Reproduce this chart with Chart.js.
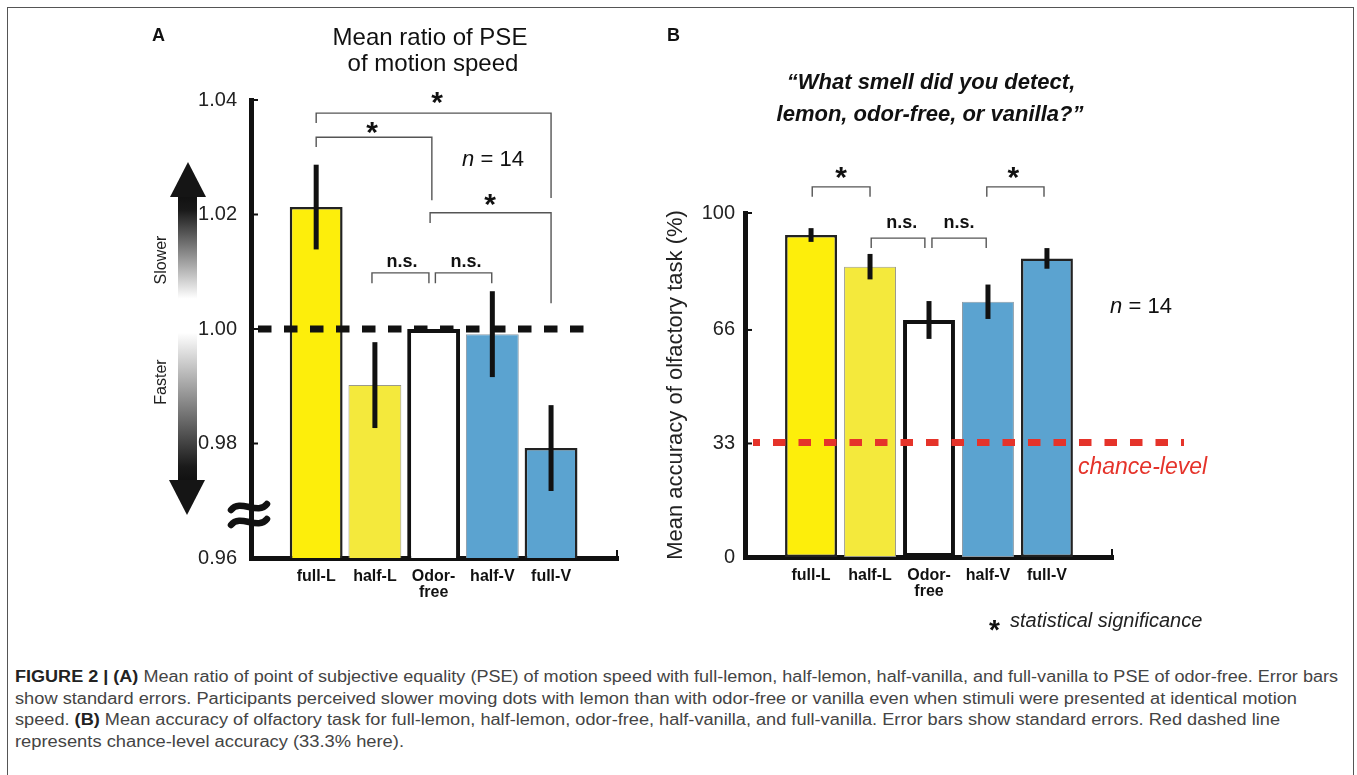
<!DOCTYPE html>
<html>
<head>
<meta charset="utf-8">
<script src="https://cdn.jsdelivr.net/npm/chart.js@4.4.1/dist/chart.umd.min.js"></script>
<style>
  body { margin: 0; background: #fff; width: 1357px; height: 775px; overflow: hidden; position: relative;
         font-family: 'Liberation Sans', Arial, sans-serif; }
  #frame { position: absolute; left: 7px; top: 7px; width: 1345px; height: 820px; border: 1px solid #555; }
  #chartA { position: absolute; left: 0; top: 0; }
  #chartB { position: absolute; left: 660px; top: 0; }
  .cap { position: absolute; left: 15px; white-space: nowrap; font-size: 16px; line-height: 22px;
         color: #444; transform-origin: 0 50%; }
  .cap b { color: #222; }
</style>
</head>
<body>
<div id="frame"></div>
<canvas id="chartA" width="660" height="640"></canvas>
<canvas id="chartB" width="697" height="640"></canvas>

<div class="cap" style="top:666px" data-w="1323"><b>FIGURE 2 | (A)</b> Mean ratio of point of subjective equality (PSE) of motion speed with full-lemon, half-lemon, half-vanilla, and full-vanilla to PSE of odor-free. Error bars</div>
<div class="cap" style="top:688px" data-w="1282">show standard errors. Participants perceived slower moving dots with lemon than with odor-free or vanilla even when stimuli were presented at identical motion</div>
<div class="cap" style="top:709px" data-w="1265">speed. <b>(B)</b> Mean accuracy of olfactory task for full-lemon, half-lemon, odor-free, half-vanilla, and full-vanilla. Error bars show standard errors. Red dashed line</div>
<div class="cap" style="top:731px" data-w="389">represents chance-level accuracy (33.3% here).</div>

<script>
// categories shared by both panels
const categories = ['full-L', 'half-L', 'Odor-\nfree', 'half-V', 'full-V'];

// panel A: mean ratio of PSE
const pseMeans = [1.0213, 0.9902, 1.0, 0.9991, 0.9792];
const pseErrors = [0.0074, 0.0075, 0, 0.0075, 0.0075];
const pseTicks = [0.96, 0.98, 1.00, 1.02, 1.04];
const pseReference = 1.0;

// panel B: accuracy of olfactory task (%)
const accMeans = [93.6, 84.4, 68.9, 74.2, 86.8];
const accErrors = [2.0, 3.7, 5.5, 5.0, 3.0];
const accTicks = [0, 33, 66, 100];
const chanceLevel = 33.3;

const barFills = ['#fdee0b', '#f4e93c', '#ffffff', '#5ba3d0', '#5ba3d0'];
const barBorders = ['#222', '#9a9a8a', '#111', '#8a9aa6', '#222'];
const barBorderWidths = [2.5, 1, 4, 1, 2.5];

Chart.defaults.font.family = "'Liberation Sans', Arial, sans-serif";
Chart.defaults.color = '#222';

function drawErrorBars(chart, means, errors) {
    const ctx = chart.ctx;
    const x = chart.scales.x, y = chart.scales.y;
    ctx.save();
    ctx.strokeStyle = '#111';
    ctx.lineWidth = 5;
    means.forEach((m, i) => {
        if (!errors[i]) return;
        const px = x.getPixelForValue(i);
        ctx.beginPath();
        ctx.moveTo(px, y.getPixelForValue(m + errors[i]));
        ctx.lineTo(px, y.getPixelForValue(m - errors[i]));
        ctx.stroke();
    });
    ctx.restore();
}

// bracket between two category positions, heights in data units
function bracket(chart, x1, x2, top, endL, endR) {
    const ctx = chart.ctx;
    const x = chart.scales.x, y = chart.scales.y;
    ctx.save();
    ctx.strokeStyle = '#555';
    ctx.lineWidth = 1.4;
    ctx.beginPath();
    ctx.moveTo(x.getPixelForValue(x1), y.getPixelForValue(endL));
    ctx.lineTo(x.getPixelForValue(x1), y.getPixelForValue(top));
    ctx.lineTo(x.getPixelForValue(x2), y.getPixelForValue(top));
    ctx.lineTo(x.getPixelForValue(x2), y.getPixelForValue(endR));
    ctx.stroke();
    ctx.restore();
}

function label(chart, text, xv, yv, font) {
    const ctx = chart.ctx;
    ctx.save();
    ctx.font = font;
    ctx.fillStyle = '#111';
    ctx.textAlign = 'center';
    ctx.textBaseline = 'middle';
    ctx.fillText(text, chart.scales.x.getPixelForValue(xv), chart.scales.y.getPixelForValue(yv));
    ctx.restore();
}

function star(chart, xv, yv) {
    const ctx = chart.ctx;
    ctx.save();
    ctx.font = "bold 30px 'Liberation Sans', Arial";
    ctx.fillStyle = '#111';
    ctx.textAlign = 'center';
    ctx.textBaseline = 'alphabetic';
    ctx.fillText('*', chart.scales.x.getPixelForValue(xv), chart.scales.y.getPixelForValue(yv) + 14);
    ctx.restore();
}

function axisTicks(chart, values) {
    const ctx = chart.ctx, area = chart.chartArea, y = chart.scales.y;
    ctx.save();
    ctx.strokeStyle = '#111';
    ctx.lineWidth = 2;
    values.forEach(v => {
        const py = y.getPixelForValue(v);
        ctx.beginPath();
        ctx.moveTo(area.left, py);
        ctx.lineTo(area.left + 7, py);
        ctx.stroke();
    });
    ctx.beginPath();
    ctx.moveTo(area.right - 1, area.bottom);
    ctx.lineTo(area.right - 1, area.bottom - 8);
    ctx.stroke();
    ctx.restore();
}

function nText(ctx, cx, cy) {
    ctx.save();
    ctx.fillStyle = '#111';
    ctx.textBaseline = 'middle';
    const rest = ' = 14';
    ctx.font = "italic 22px 'Liberation Sans', Arial";
    const wn = ctx.measureText('n').width;
    ctx.font = "22px 'Liberation Sans', Arial";
    const wr = ctx.measureText(rest).width;
    const left = cx - (wn + wr) / 2;
    ctx.font = "italic 22px 'Liberation Sans', Arial";
    ctx.fillText('n', left, cy);
    ctx.font = "22px 'Liberation Sans', Arial";
    ctx.fillText(rest, left + wn, cy);
    ctx.restore();
}

const pseAnnotations = {
    id: 'pseAnnotations',
    afterDatasetsDraw(chart) {
        const {ctx, chartArea, scales: {x, y}} = chart;
        ctx.save();
        ctx.strokeStyle = '#111';
        ctx.lineWidth = 7;
        ctx.setLineDash([13.5, 12.5]);
        const py = y.getPixelForValue(pseReference);
        ctx.beginPath();
        ctx.moveTo(chartArea.left + 7, py);
        ctx.lineTo(x.getPixelForValue(4.67), py);
        ctx.stroke();
        ctx.restore();
        drawErrorBars(chart, pseMeans, pseErrors);
    },
    afterDraw(chart) {
        const ctx = chart.ctx;
        axisTicks(chart, pseTicks);

        bracket(chart, 0, 4.0, 1.0377, 1.0360, 1.0229);
        star(chart, 2.06, 1.0403);
        bracket(chart, 0, 1.97, 1.0335, 1.0318, 1.0225);
        star(chart, 0.95, 1.0351);
        bracket(chart, 1.94, 4.0, 1.0203, 1.0185, 1.0045);
        star(chart, 2.96, 1.0225);
        bracket(chart, 0.95, 1.92, 1.0098, 1.0080, 1.0080);
        label(chart, 'n.s.', 1.46, 1.0117, "bold 18px 'Liberation Sans', Arial");
        bracket(chart, 2.03, 2.99, 1.0098, 1.0080, 1.0080);
        label(chart, 'n.s.', 2.55, 1.0117, "bold 18px 'Liberation Sans', Arial");

        ctx.save();
        // panel letter and title
        ctx.fillStyle = '#111';
        ctx.textBaseline = 'middle';
        ctx.textAlign = 'left';
        ctx.font = "bold 18px 'Liberation Sans', Arial";
        ctx.fillText('A', 152, 36);
        ctx.textAlign = 'center';
        ctx.font = "24px 'Liberation Sans', Arial";
        ctx.fillText('Mean ratio of PSE', 430, 38);
        ctx.fillText('of motion speed', 433, 64);
        ctx.restore();
        nText(ctx, 493, 160);

        // slower / faster gradient arrow
        ctx.save();
        const grad = ctx.createLinearGradient(0, 196, 0, 481);
        grad.addColorStop(0, '#111');
        grad.addColorStop(0.05, '#1a1a1a');
        grad.addColorStop(0.36, '#fff');
        grad.addColorStop(0.48, '#fff');
        grad.addColorStop(0.95, '#1a1a1a');
        grad.addColorStop(1, '#111');
        ctx.fillStyle = grad;
        ctx.fillRect(178, 196, 19, 285);
        ctx.fillStyle = '#151515';
        ctx.beginPath();
        ctx.moveTo(188, 162); ctx.lineTo(206, 197); ctx.lineTo(170, 197);
        ctx.closePath(); ctx.fill();
        ctx.beginPath();
        ctx.moveTo(169, 480); ctx.lineTo(205, 480); ctx.lineTo(187, 515);
        ctx.closePath(); ctx.fill();
        ctx.fillStyle = '#222';
        ctx.font = "16px 'Liberation Sans', Arial";
        ctx.textAlign = 'center';
        ctx.textBaseline = 'middle';
        ctx.translate(162, 260); ctx.rotate(-Math.PI / 2);
        ctx.fillText('Slower', 0, 0);
        ctx.rotate(Math.PI / 2); ctx.translate(0, 122); ctx.rotate(-Math.PI / 2);
        ctx.fillText('Faster', 0, 0);
        ctx.restore();

        // axis break mark
        ctx.save();
        ctx.strokeStyle = '#111';
        ctx.lineWidth = 6.5;
        ctx.lineCap = 'round';
        [507, 522].forEach(cy => {
            ctx.beginPath();
            ctx.moveTo(231, cy + 3);
            ctx.bezierCurveTo(240, cy - 9, 258, cy + 9, 267, cy - 3);
            ctx.stroke();
        });
        ctx.restore();
    }
};

const accAnnotations = {
    id: 'accAnnotations',
    afterDatasetsDraw(chart) {
        drawErrorBars(chart, accMeans, accErrors);
    },
    afterDraw(chart) {
        const {ctx, scales: {x, y}} = chart;
        axisTicks(chart, accTicks);

        // chance level
        ctx.save();
        ctx.strokeStyle = '#e5332a';
        ctx.lineWidth = 7;
        ctx.setLineDash([12.5, 13]);
        ctx.lineDashOffset = 5.5;
        const py = y.getPixelForValue(chanceLevel);
        ctx.beginPath();
        ctx.moveTo(93, py);
        ctx.lineTo(524, py);
        ctx.stroke();
        ctx.setLineDash([]);
        ctx.fillStyle = '#e5332a';
        ctx.font = "italic 23px 'Liberation Sans', Arial";
        ctx.textBaseline = 'middle';
        ctx.fillText('chance-level', 418, 468);
        ctx.restore();

        bracket(chart, 0.02, 1.0, 107.6, 104.7, 104.7);
        star(chart, 0.51, 111.6);
        bracket(chart, 2.98, 3.95, 107.6, 104.7, 104.7);
        star(chart, 3.43, 111.6);
        bracket(chart, 1.02, 1.93, 92.7, 89.8, 89.8);
        label(chart, 'n.s.', 1.54, 97.1, "bold 18px 'Liberation Sans', Arial");
        bracket(chart, 2.05, 2.97, 92.7, 89.8, 89.8);
        label(chart, 'n.s.', 2.51, 97.1, "bold 18px 'Liberation Sans', Arial");

        nText(ctx, 481, 307);

        ctx.save();
        ctx.fillStyle = '#111';
        ctx.textBaseline = 'middle';
        ctx.textAlign = 'left';
        ctx.font = "bold 18px 'Liberation Sans', Arial";
        ctx.fillText('B', 7, 36);
        ctx.textAlign = 'center';
        ctx.font = "italic bold 22px 'Liberation Sans', Arial";
        ctx.fillText('\u201CWhat smell did you detect,', 271, 83);
        ctx.fillText('lemon, odor-free, or vanilla?\u201D', 270, 115);

        // significance note
        ctx.textAlign = 'left';
        ctx.font = "bold 28px 'Liberation Sans', Arial";
        ctx.textBaseline = 'alphabetic';
        ctx.fillText('*', 329, 639);
        ctx.textBaseline = 'middle';
        ctx.fillStyle = '#222';
        ctx.font = "italic 20px 'Liberation Sans', Arial";
        ctx.fillText('statistical significance', 350, 621);
        ctx.restore();
    }
};

function barChart(canvasId, means, yTicks, opts, plugin) {
    return new Chart(document.getElementById(canvasId), {
        type: 'bar',
        data: {
            datasets: [{
                data: means.map((v, i) => ({x: i, y: v})),
                backgroundColor: barFills,
                borderColor: barBorders,
                borderWidth: barBorderWidths,
                borderSkipped: false,
                categoryPercentage: 1,
                barPercentage: opts.barPercentage
            }]
        },
        options: {
            responsive: false,
            animation: false,
            devicePixelRatio: 1,
            layout: {padding: opts.padding},
            plugins: {legend: {display: false}, tooltip: {enabled: false}},
            scales: {
                x: {
                    type: 'linear',
                    offset: false,
                    min: opts.xMin,
                    max: opts.xMax,
                    z: 1,
                    grid: {display: false, drawTicks: false},
                    border: {display: true, width: 5, color: '#111'},
                    afterBuildTicks: (scale) => {
                        scale.ticks = categories.map((c, i) => ({value: i}));
                    },
                    afterFit: (scale) => { scale.height = 60; },
                    ticks: {
                        autoSkip: false,
                        maxRotation: 0,
                        padding: 11,
                        color: '#111',
                        font: {size: 16, weight: 'bold', lineHeight: 1},
                        callback: (value) => categories[value].split('\n')
                    }
                },
                y: {
                    min: yTicks[0],
                    max: yTicks[yTicks.length - 1],
                    z: 1,
                    grid: {display: false, drawTicks: false},
                    border: {display: true, width: 5, color: '#111'},
                    afterBuildTicks: (scale) => {
                        scale.ticks = yTicks.map(v => ({value: v}));
                    },
                    afterFit: (scale) => { scale.width = opts.yWidth; },
                    title: opts.yTitle,
                    ticks: {
                        padding: opts.yPad,
                        color: '#222',
                        font: {size: 20},
                        callback: opts.tickFormat
                    }
                }
            }
        },
        plugins: [plugin]
    });
}

window.addEventListener('DOMContentLoaded', () => {
    barChart('chartA', pseMeans, pseTicks, {
        barPercentage: 0.9,
        padding: {left: 0, top: 100, right: 42, bottom: 22},
        xMin: -1.11, xMax: 5.14,
        yWidth: 251, yPad: 14,
        yTitle: {display: false},
        tickFormat: (v) => v.toFixed(2)
    }, pseAnnotations);

    barChart('chartB', accMeans, accTicks, {
        barPercentage: 0.88,
        padding: {left: 0, top: 213, right: 244, bottom: 23},
        xMin: -1.12, xMax: 5.12,
        yWidth: 85, yPad: 10,
        yTitle: {
            display: true,
            text: 'Mean accuracy of olfactory task (%)',
            color: '#222',
            font: {size: 22},
            padding: {top: 3, bottom: 0}
        },
        tickFormat: (v) => String(v)
    }, accAnnotations);

    // fit caption lines to the widths of the original typesetting
    document.querySelectorAll('.cap').forEach(el => {
        const w = el.getBoundingClientRect().width;
        el.style.transform = 'scaleX(' + (Number(el.dataset.w) / w) + ')';
    });
});
</script>
</body>
</html>
